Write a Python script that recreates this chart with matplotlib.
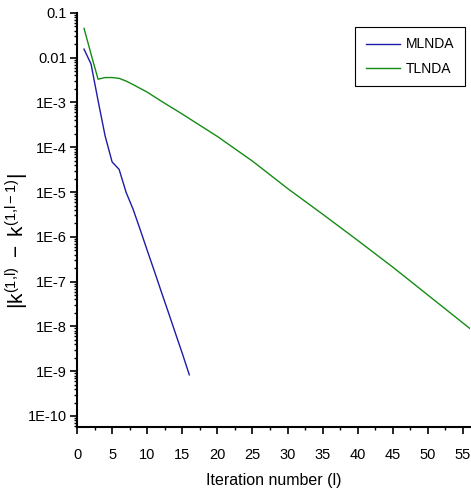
import numpy as np
import matplotlib
matplotlib.use('Agg')
import matplotlib.pyplot as plt
from matplotlib.ticker import MultipleLocator, LogLocator, FixedLocator, NullFormatter

plt.rcParams['font.family'] = ['Liberation Sans', 'DejaVu Sans']
plt.rcParams['mathtext.fontset'] = 'custom'
plt.rcParams['mathtext.rm'] = 'Liberation Sans'
plt.rcParams['mathtext.it'] = 'Liberation Sans'

# MLNDA values
ml_iter = [1, 2, 3, 4, 5, 6, 7, 8, 9, 10, 11, 12, 13, 14, 15, 16]
ml_err = [1.55e-2, 7.2e-3, 1.1e-3, 1.8e-4, 4.7e-5, 3.2e-5, 9.8e-6, 4.1e-6,
          1.45e-6, 5.0e-7, 1.75e-7, 6.0e-8, 2.1e-8, 7.2e-9, 2.5e-9, 8.3e-10]

# TLNDA values
tl_iter = [1, 2, 3, 4, 5, 6, 7, 8, 10, 12, 15, 20, 25, 30, 35, 40, 45, 50, 56]
tl_err = [4.5e-2, 1.2e-2, 3.3e-3, 3.6e-3, 3.6e-3, 3.45e-3, 3.0e-3, 2.5e-3,
          1.7e-3, 1.07e-3, 5.5e-4, 1.74e-4, 4.9e-5, 1.2e-5, 3.2e-6,
          8.3e-7, 2.1e-7, 5.0e-8, 8.9e-9]

ytick_vals = [1e-1, 1e-2, 1e-3, 1e-4, 1e-5, 1e-6, 1e-7, 1e-8, 1e-9, 1e-10]
ytick_labels = ['0.1', '0.01', '1E-3', '1E-4', '1E-5', '1E-6', '1E-7', '1E-8', '1E-9', '1E-10']

fig = plt.figure(figsize=(4.71, 4.95), dpi=100)
ax = fig.add_axes([0.1635, 0.137, 0.8345, 0.837])

ax.plot(ml_iter, ml_err, color='#1c1ca8', lw=1.0, label='MLNDA')
ax.plot(tl_iter, tl_err, color='#148c14', lw=1.0, label='TLNDA')

ax.set_yscale('log')
ax.set_xlim(0, 56)
ax.set_ylim(10 ** -10.25, 0.1)

ax.xaxis.set_major_locator(MultipleLocator(5))
ax.xaxis.set_minor_locator(MultipleLocator(2.5))
ax.yaxis.set_major_locator(FixedLocator(ytick_vals))
ax.set_yticklabels(ytick_labels)
ax.yaxis.set_minor_locator(LogLocator(base=10, subs=np.arange(2, 10) * 1.0, numticks=20))
ax.yaxis.set_minor_formatter(NullFormatter())

for s in ['top', 'right']:
    ax.spines[s].set_visible(False)
for s in ['left', 'bottom']:
    ax.spines[s].set_linewidth(1.5)

ax.tick_params(which='major', direction='out', length=5, width=1.2, labelsize=10.5)
ax.tick_params(which='minor', direction='out', length=2.5, width=1.0)
ax.tick_params(axis='y', which='major', pad=2.5)
ax.tick_params(axis='x', which='major', pad=10)

ax.set_xlabel('Iteration number (l)', fontsize=11.5)
ax.xaxis.set_label_coords(0.5, -0.11)
ax.set_ylabel(r'$\mathregular{|k^{(1{,}l)}\ -\ k^{(1{,}l-1)}|}$', fontsize=15)
ax.yaxis.set_label_coords(-0.118, 0.45)

leg = ax.legend(loc='upper right', bbox_to_anchor=(0.987, 0.966), fancybox=False,
                edgecolor='black', framealpha=1, fontsize=10, handlelength=2.5,
                handletextpad=0.4, borderpad=0.75, labelspacing=0.75,
                borderaxespad=0)
leg.get_frame().set_linewidth(0.8)

fig.savefig('out.png', dpi=100)
